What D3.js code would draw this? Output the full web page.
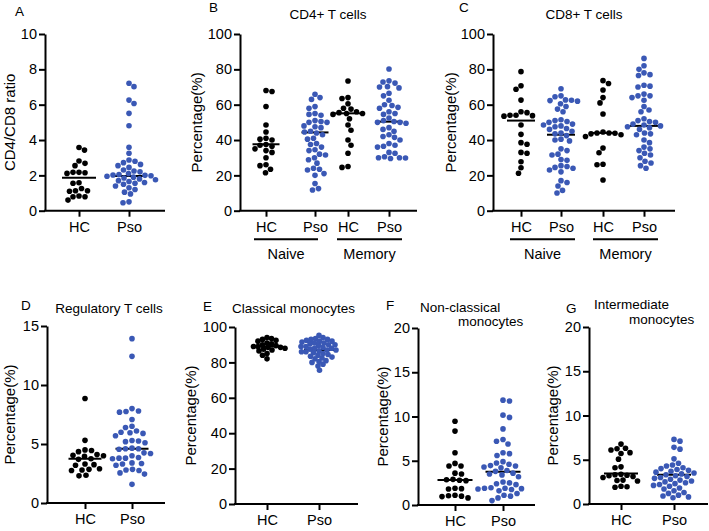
<!DOCTYPE html>
<html><head><meta charset="utf-8">
<script src="https://cdn.jsdelivr.net/npm/d3@7"></script>
<style>body{margin:0;background:#fff}svg text{font-family:"Liberation Sans",Arial,sans-serif;fill:#000}</style>
</head><body><svg id="c" width="709" height="531"></svg>
<script>
// ---------- data ----------
const groupsAB = ["HC", "Pso"];
const groupsNM = ["nHC", "nPso", "mHC", "mPso"];
const tickNM = {nHC: "HC", nPso: "Pso", mHC: "HC", mPso: "Pso"};
const subsetLabels = ["Naive", "Memory"];

const A_HC = [3.58,3.43,2.81,2.68,2.55,2.17,2.17,2.15,2.11,1.58,1.55,1.26,1.13,1.13,1.10,0.83,0.79,0.79,0.60];
const A_Pso = [7.21,7.02,6.26,6.07,5.51,4.81,3.59,3.25,2.87,2.80,2.72,2.62,2.55,2.45,2.30,2.25,2.20,2.10,2.05,2.02,2.00,1.98,1.95,1.90,1.85,1.80,1.75,1.70,1.65,1.60,1.55,1.50,1.40,1.30,1.20,1.05,0.95,0.50,0.45];
const A_lines = [1.87, 1.97];

const B_nHC = [68,67.5,59,48.5,44.5,41,40.5,40,37.5,37,36.5,35,34,33,30,26,25.5,23.5,21.5];
const B_nPso = [65.9,64,63,58.9,58,55,54.5,54,51,50.5,50,50,48,47.5,47,45,44.5,44,43,41,40.5,38,37.5,36,34.5,34,32,31.5,30,28.8,26.9,24,23.5,23,21,20,15.4,12.5,11.7];
const B_mHC = [73.4,64,63.5,60.5,58,57.5,56,55.5,55,55,54.5,52,48.5,45.5,40,37,32.5,25,24.5];
const B_mPso = [80.2,73.5,72.8,72.2,70.2,70,69.5,66.5,65,62.5,60,59.5,58.5,58,56,55,54.5,52.5,51,50.5,50,50,49.5,47,46,45,43,42,41.5,40,38,37,36.5,36,33,32.5,30.5,30,30,29.8,29.5];
const B_lines = [37.6, 44.3, 55.1, 50.4];

const C_nHC = [78.7,70.7,68.7,62.6,56,55.5,54,54,53.8,53.5,48.5,43.2,38.5,37.6,33,32.5,27.7,24.3,21.2];
const C_nPso = [69,65,64.5,62.7,62.5,62.3,62,60.5,59,57.5,56,51.5,51,50.5,50,49,48.5,48,47.5,46.5,46,45,44,43.5,42.5,40.5,40,39.5,35,34,32,31.5,29,28.5,25.5,25,24.5,24,23,22,17,16,14,11.5,10];
const C_mHC = [73.6,72,68.3,64,61,54.7,44.5,44,44,43.8,43.5,43,42,35.5,32.8,26.3,26,17.4];
const C_mPso = [86.2,82,80,78,77,76.5,71,70.5,70,66,65,65,64,62.5,59,57,56,52,51,50.5,50,49,48.5,48,47.5,47,46,44,43.5,43,40,38.5,36,35,34,32.5,31.5,30,28,27,25.5,24];
const C_lines = [51, 43, 44, 48];

const D_HC = [8.85,5.31,4.5,4.45,4.35,4.1,4.05,4.0,3.95,3.75,3.7,3.3,3.25,3.2,2.9,2.85,2.8,2.75,2.35,2.3];
const D_Pso = [13.93,12.43,8.0,7.8,7.75,7.7,7.07,6.5,6.4,6.1,6.0,5.95,5.9,5.7,5.3,5.25,5.2,5.1,4.65,4.6,4.6,4.55,4.25,4.2,4.0,3.85,3.8,3.8,3.75,3.4,3.35,3.3,3.2,2.85,2.8,2.75,2.55,2.45,1.58];
const D_lines = [3.76, 4.6];

const E_HC = [94,93.5,93,92.5,92,91,90.5,90,89.5,89,89,88.5,88.5,88,87.5,87,86.5,85,84,82];
const E_Pso = [95.3,94,93.5,93,93,92.5,92,92,91.5,91,91,90.5,90,90,89.5,89,89,88.5,88,88,87.5,87,87,86.5,86,86,85.5,85,84.5,84,83.5,83,82.5,82,81,80.5,80,79,78,75.6];
const E_lines = [89, 87];

const F_HC = [9.47,8.35,5.9,4.7,4.4,4.4,3.6,3.5,2.9,2.85,2.8,2.75,1.9,1.85,1.8,1.1,1.05,1.0,0.95,0.8];
const F_Pso = [11.85,11.75,10.15,9.9,8.6,7.4,7.2,6.9,5.9,5.8,5.6,4.9,4.75,4.6,4.45,4.4,4.3,4.2,3.9,3.8,3.6,3.5,3.4,3.2,2.6,2.5,2.4,2.3,1.95,1.9,1.9,1.85,1.8,1.75,1.6,1.3,1.1,1.0,0.8,0.5];
const F_lines = [2.82, 3.76];

const G_HC = [6.77,6.3,6.25,6.1,5.8,5.7,5.07,4.2,4.1,3.35,3.3,3.25,3.2,3.1,3.0,2.7,2.65,2.6,2.0,1.95,1.9];
const G_Pso = [7.3,7.1,6.4,6.2,5.1,4.6,4.4,4.3,4.1,4.0,3.9,3.8,3.7,3.6,3.5,3.4,3.3,3.2,3.1,3.0,2.9,2.8,2.7,2.6,2.5,2.4,2.3,2.2,2.1,2.0,1.8,1.7,1.5,1.3,1.2,1.0,0.9,0.8,0.7];
const G_lines = [3.46, 3.3];

// ---------- layout ----------
const BLACK = "#000", BLUE = "#3a58b5";
const svg = d3.select("#c");

const panels = [
  {letter:"A", lx:15, ly:16, title:[], ylabel:"CD4/CD8 ratio", ylx:9, dom:[0,10], ticks:[0,2,4,6,8,10],
   x0:45, x1:165, yt:34, yb:210.7, keys:groupsAB, pos:[79,129], fmt:d=>d,
   data:[A_HC,A_Pso], lines:A_lines, colors:[BLACK,BLUE], hw:17, dmin:6},
  {letter:"B", lx:209, ly:12, title:[{t:"CD4+ T cells", x:328, y:19, a:"middle"}], ylabel:"Percentage(%)", ylx:196, dom:[0,100], ticks:[0,20,40,60,80,100],
   x0:240, x1:417, yt:34, yb:210.7, keys:groupsNM, pos:[266,315,348,389], fmt:d=>tickNM[d],
   data:[B_nHC,B_nPso,B_mHC,B_mPso], lines:B_lines, colors:[BLACK,BLUE,BLACK,BLUE], hw:13.5, dmin:6,
   subsets:[{l:subsetLabels[0], a:254, b:318}, {l:subsetLabels[1], a:337, b:402}]},
  {letter:"C", lx:459, ly:12, title:[{t:"CD8+ T cells", x:584, y:19, a:"middle"}], ylabel:"Percentage(%)", ylx:450, dom:[0,100], ticks:[0,20,40,60,80,100],
   x0:493, x1:675, yt:34, yb:210.7, keys:groupsNM, pos:[521,561,603,644], fmt:d=>tickNM[d],
   data:[C_nHC,C_nPso,C_mHC,C_mPso], lines:C_lines, colors:[BLACK,BLUE,BLACK,BLUE], hw:14, dmin:6,
   subsets:[{l:subsetLabels[0], a:510, b:575}, {l:subsetLabels[1], a:593, b:658}]},
  {letter:"D", lx:21, ly:310, title:[{t:"Regulatory T cells", x:109, y:313, a:"middle"}], ylabel:"Percentage(%)", ylx:9, dom:[0,15], ticks:[0,5,10,15],
   x0:47, x1:165, yt:326, yb:503, keys:groupsAB, pos:[85,132], fmt:d=>d,
   data:[D_HC,D_Pso], lines:D_lines, colors:[BLACK,BLUE], hw:16.5, dmin:6.5},
  {letter:"E", lx:203, ly:311, title:[{t:"Classical monocytes", x:232, y:313, a:"start"}], ylabel:"Percentage(%)", ylx:190, dom:[0,100], ticks:[0,20,40,60,80,100],
   x0:235, x1:358, yt:327, yb:504, keys:groupsAB, pos:[267,319], fmt:d=>d,
   data:[E_HC,E_Pso], lines:E_lines, colors:[BLACK,BLUE], hw:15, dmin:4.5},
  {letter:"F", lx:386, ly:310, title:[{t:"Non-classical", x:420, y:312, a:"start"}, {t:"monocytes", x:458, y:326, a:"start"}], ylabel:"Percentage(%)", ylx:382, dom:[0,20], ticks:[0,5,10,15,20],
   x0:418, x1:535, yt:328, yb:505, keys:groupsAB, pos:[455,503], fmt:d=>d,
   data:[F_HC,F_Pso], lines:F_lines, colors:[BLACK,BLUE], hw:17.5, dmin:6.5},
  {letter:"G", lx:566, ly:313, title:[{t:"Intermediate", x:594, y:309, a:"start"}, {t:"monocytes", x:629, y:324, a:"start"}], ylabel:"Percentage(%)", ylx:552, dom:[0,20], ticks:[0,5,10,15,20],
   x0:589, x1:708, yt:327, yb:504, keys:groupsAB, pos:[621,674], fmt:d=>d,
   data:[G_HC,G_Pso], lines:G_lines, colors:[BLACK,BLUE], hw:17, dmin:6}
];

// collision beeswarm: each point takes the x offset nearest the group centre that keeps dmin spacing
function swarm(values, y, cx, dmin) {
  const pts = values.map(v => ({v, y: y(v)})).sort((a, b) => a.y - b.y);
  const placed = [];
  pts.forEach((p, idx) => {
    const sgn = idx % 2 ? 1 : -1;
    for (let k = 0; k < 400; k++) {
      const m = Math.ceil(k / 2) * 0.5;
      const off = k === 0 ? 0 : (k % 2 ? sgn * m : -sgn * m);
      const xx = cx + off;
      if (placed.every(q => (q.x - xx) ** 2 + (q.y - p.y) ** 2 >= dmin * dmin)) { p.x = xx; break; }
    }
    placed.push(p);
  });
  return pts;
}

panels.forEach(P => {
  const g = svg.append("g");
  const y = d3.scaleLinear().domain(P.dom).range([P.yb, P.yt]);
  const x = d3.scaleOrdinal().domain(P.keys).range(P.pos);

  // summary lines (under points)
  P.keys.forEach((k, i) => {
    g.append("line").attr("x1", x(k) - P.hw).attr("x2", x(k) + P.hw)
      .attr("y1", y(P.lines[i])).attr("y2", y(P.lines[i]))
      .attr("stroke", "#000").attr("stroke-width", 2);
  });
  // points
  P.keys.forEach((k, i) => {
    const pts = swarm(P.data[i], y, x(k), P.dmin);
    g.append("g").selectAll("circle").data(pts).join("circle")
      .attr("cx", d => d.x).attr("cy", d => d.y).attr("r", 2.8).attr("fill", P.colors[i]);
  });

  // y axis
  const ya = g.append("g").attr("transform", `translate(${P.x0},0)`)
    .call(d3.axisLeft(y).tickValues(P.ticks).tickSize(6).tickSizeOuter(0).tickPadding(2));
  ya.select(".domain").attr("stroke-width", 2);
  ya.selectAll(".tick line").attr("stroke-width", 2);
  ya.selectAll(".tick text").attr("font-size", 14.5).style("font-family", '"Liberation Sans",Arial,sans-serif');

  // x axis
  g.append("line").attr("x1", P.x0 - 1).attr("x2", P.x1).attr("y1", P.yb).attr("y2", P.yb)
    .attr("stroke", "#000").attr("stroke-width", 2);
  const xa = g.append("g").attr("transform", `translate(0,${P.yb})`)
    .call(d3.axisBottom(x).tickFormat(P.fmt).tickSize(6).tickPadding(5));
  xa.select(".domain").remove();
  xa.selectAll(".tick line").attr("stroke-width", 2);
  xa.selectAll(".tick text").attr("font-size", 14.5).style("font-family", '"Liberation Sans",Arial,sans-serif');

  // subset brackets
  if (P.subsets) P.subsets.forEach(s => {
    g.append("line").attr("x1", s.a).attr("x2", s.b).attr("y1", P.yb + 28.5).attr("y2", P.yb + 28.5)
      .attr("stroke", "#000").attr("stroke-width", 2);
    g.append("text").attr("x", (s.a + s.b) / 2).attr("y", P.yb + 48.5).attr("text-anchor", "middle")
      .attr("font-size", 14.5).text(s.l);
  });

  // y label
  g.append("text").attr("transform", `translate(${P.ylx},${(P.yt + P.yb) / 2}) rotate(-90)`)
    .attr("text-anchor", "middle").attr("dominant-baseline", "central").attr("font-size", 15).text(P.ylabel);
  // letter
  g.append("text").attr("x", P.lx).attr("y", P.ly).attr("font-size", 13.5).text(P.letter);
  // title
  P.title.forEach(t => g.append("text").attr("x", t.x).attr("y", t.y).attr("text-anchor", t.a)
    .attr("font-size", 13.5).text(t.t));
});
</script></body></html>
